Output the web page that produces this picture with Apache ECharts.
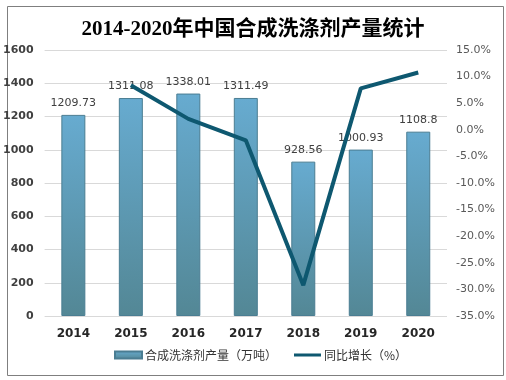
<!DOCTYPE html>
<html>
<head>
<meta charset="utf-8">
<script src="https://cdn.jsdelivr.net/npm/echarts@6/dist/echarts.min.js"></script>
<style>html,body{margin:0;padding:0;background:#fff}#c{width:506px;height:380px}</style>
</head>
<body>
<div id="c"></div>
<script>
var titleText = '2014-2020年中国合成洗涤剂产量统计';
var years = ['2014','2015','2016','2017','2018','2019','2020'];
var production = [1209.73, 1311.08, 1338.01, 1311.49, 928.56, 1000.93, 1108.8];
var growth = [null, 8.38, 2.05, -1.98, -29.2, 7.79, 10.78];
var barName = '合成洗涤剂产量（万吨）';
var lineName = '同比增长（%）';

var chart = echarts.init(document.getElementById('c'), null, {renderer:'canvas'});
chart.setOption({
  animation: false,
  backgroundColor: '#fff',
  graphic: [{
    type: 'rect', left: 5, top: 4,
    shape: {width: 496, height: 369},
    style: {fill: 'none', stroke: '#7f7f7f', lineWidth: 1}
  }],
  title: {
    text: titleText, left: 'center', top: 14,
    textStyle: {fontFamily: '"Liberation Serif","Noto Sans CJK SC",serif', fontWeight: 'bold', fontSize: 21, color: '#000'}
  },
  legend: {
    bottom: 14, left: 109, itemWidth: 27, itemHeight: 7, itemGap: 17,
    textStyle: {fontSize: 12, color: '#333', fontFamily: '"Noto Sans CJK SC",sans-serif', padding: [0,0,0,-2]},
    data: [
      {name: barName, icon: 'rect'},
      {name: lineName, icon: 'path://M0,0L27,0L27,0.01L0,0.01ZM0,2L27,2L27,5L0,5ZM0,7L27,7L27,7.01L0,7.01Z'}
    ]
  },
  grid: {left: 44, right: 59, top: 50, bottom: 64, containLabel: false},
  xAxis: {
    type: 'category', data: years,
    axisLine: {show: false}, axisTick: {show: false},
    axisLabel: {fontSize: 12, fontWeight: 'bold', color: '#262626', margin: 12, fontFamily: '"DejaVu Sans",sans-serif'}
  },
  yAxis: [{
    type: 'value', min: 0, max: 1600, interval: 200,
    axisLine: {show: false}, axisTick: {show: false},
    splitLine: {lineStyle: {color: '#d9d9d9'}},
    axisLabel: {fontSize: 11, fontWeight: 'bold', color: '#404040', margin: 11, fontFamily: '"DejaVu Sans",sans-serif',
      formatter: function(v){ return String(v); }}
  }, {
    type: 'value', min: -35, max: 15, interval: 5,
    axisLine: {show: false}, axisTick: {show: false}, splitLine: {show: false},
    axisLabel: {fontSize: 11, color: '#595959', margin: 9, fontFamily: '"DejaVu Sans",sans-serif',
      formatter: function(v){ return v.toFixed(1) + '%'; }}
  }],
  series: [{
    name: barName, type: 'bar', data: production, barWidth: 24, yAxisIndex: 0,
    itemStyle: {
      color: new echarts.graphic.LinearGradient(0,0,0,1,[{offset:0,color:'#67abd0'},{offset:1,color:'#538795'}]),
      borderColor: '#4a7d92', borderWidth: 1
    },
    label: {show: true, position: 'top', distance: 6, fontSize: 11, color: '#404040', fontFamily: '"DejaVu Sans",sans-serif'}
  }, {
    name: lineName, type: 'line', data: growth, yAxisIndex: 1,
    symbol: 'none', lineStyle: {width: 4, color: '#0e5870'}, itemStyle: {color: '#0e5870'}, z: 5
  }]
});
</script>
</body>
</html>
